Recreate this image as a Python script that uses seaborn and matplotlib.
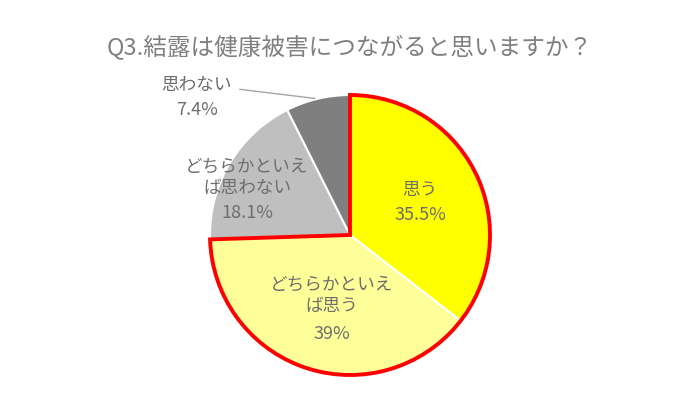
import matplotlib
matplotlib.use('Agg')
import matplotlib.pyplot as plt
import seaborn as sns
import numpy as np

title = 'Q3.結露は健康被害につながると思いますか？'
labels = ['思う', 'どちらかといえ\nば思う', 'どちらかといえ\nば思わない', '思わない']
pct_text = ['35.5%', '39%', '18.1%', '7.4%']
values = [35.5, 39.0, 18.1, 7.4]
colors = ['#FFFF00', '#FFFF99', '#BFBFBF', '#7F7F7F']

sns.set_theme(style='white')
plt.rcParams['font.family'] = ['Noto Sans CJK JP', 'DejaVu Sans']

fig = plt.figure(figsize=(7, 4.17), dpi=100)
ax = fig.add_axes([0, 0, 1, 1])

R = 140  # pie radius in pixels
cx, cy = 350, 235  # pie centre in pixels (from top-left)


def px(x, y):
    return (x - cx) / R, (cy - y) / R


wedges, _ = ax.pie(values, colors=colors, startangle=90, counterclock=False,
                   radius=1, wedgeprops=dict(edgecolor='white', linewidth=1.5))

# red outline around the two "agree" slices
agree = [values[0] + values[1], values[2] + values[3]]
outline, _ = ax.pie(agree, colors=['none', 'none'], startangle=90, counterclock=False,
                    radius=1, wedgeprops=dict(linewidth=0))
outline[0].set_edgecolor('#FF0000')
outline[0].set_linewidth(2.8)
outline[0].set_joinstyle('miter')

txt_color = '#6E6E6E'
# (label centre, percent centre) in pixels
spots = [((420, 190), (420, 215)),
         ((332, 295), (332, 334)),
         ((247, 177), (247, 213)),
         ((196, 85), (197, 110))]
for lab, pct, (lp, pp) in zip(labels, pct_text, spots):
    ax.text(*px(*lp), lab, ha='center', va='center', fontsize=12.7,
            color=txt_color, linespacing=1.25)
    ax.text(*px(*pp), pct, ha='center', va='center', fontsize=13, color=txt_color)

w = wedges[3]
ang = np.deg2rad((w.theta1 + w.theta2) / 2)
ax.annotate('', xy=(np.cos(ang), np.sin(ang)), xytext=px(237, 89),
            arrowprops=dict(arrowstyle='-', color='#A6A6A6', lw=1))

ax.set_xlim(-cx / R, (700 - cx) / R)
ax.set_ylim(-(417 - cy) / R, cy / R)
ax.axis('off')

fig.text(0.5, 1 - 47 / 417, title, ha='center', va='center', fontsize=17, color='#7F7F7F')

fig.savefig('out.png', dpi=100)
